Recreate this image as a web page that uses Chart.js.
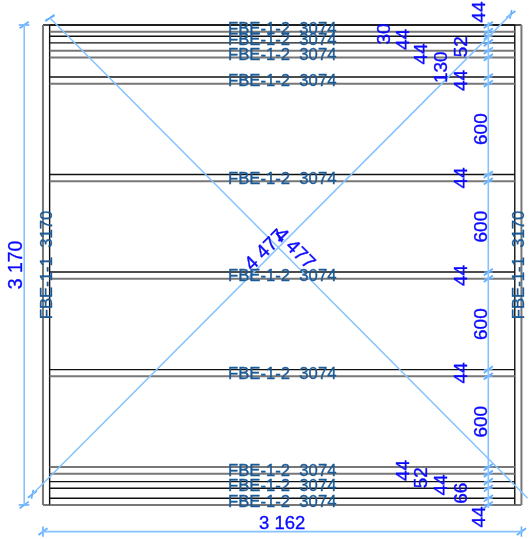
<!DOCTYPE html>
<html lang="en">
  <head>
    <meta charset="UTF-8" />
    <title>FBE</title>
    <style>
      html, body { margin: 0; padding: 0; background: #fff; }
      #wrap { position: relative; width: 529px; height: 539px; }
    </style>
  </head>
  <body>
    <div id="wrap"><canvas id="myChart"></canvas></div>

    <script src="https://cdn.jsdelivr.net/npm/chart.js"></script>
    <script>
      // all sizes in mm
      const frameWidth = 3162;
      const frameHeight = 3170;
      const studWidth = 44;
      const joistLength = 3074;
      const diagonalLength = "4 477";
      const joistLabel = "FBE-1-2  3074";
      const studLabel = "FBE-1-1  3170";
      // dimension chain on the right, from top to bottom
      const chainSizes = [44, 30, 44, 52, 44, 130, 44, 600, 44, 600, 44, 600, 44, 600, 44, 52, 44, 66, 44];
      // x of each chain label, mm from the left edge
      const chainLabelX = [2880, 2250, 2380, 2760, 2500, 2630, 2760, 2890, 2760, 2890, 2760, 2890, 2760, 2890, 2380, 2500, 2630, 2760, 2880];
      // 1 = edge looks black in the reference, 0 = soft grey
      const edgeIsDark = [1, 0, 1, 1, 0, 0, 1, 0, 1, 0, 1, 0, 1, 0, 0, 0, 1, 1, 1, 0];

      const BLUE = "#85c2ff";
      const TICK = "#66b0ff";
      const BLACK = "#111111";
      const GREY = "#777777";

      const boundaries = [frameHeight];
      chainSizes.forEach((s) => boundaries.push(boundaries[boundaries.length - 1] - s));

      function seg(x1, y1, x2, y2, color, width) {
        return {
          data: [{ x: x1, y: y1 }, { x: x2, y: y2 }],
          borderColor: color,
          borderWidth: width,
          showLine: true,
          pointRadius: 0,
          fill: false,
        };
      }

      function tick(x, y) {
        return seg(x - 30, y - 22, x + 30, y + 22, TICK, 1.8);
      }

      const datasets = [];

      // diagonals
      datasets.push(seg(46, frameHeight + 46, frameWidth + 40, 46, BLUE, 1.5));
      datasets.push(seg(-70, 70, frameWidth - 70, frameHeight + 70, BLUE, 1.5));
      datasets.push(tick(46, frameHeight + 46));
      datasets.push(seg(16, frameHeight + 30, 76, frameHeight + 62, TICK, 1.6));
      datasets.push(tick(-70, 70));
      datasets.push(seg(-76, 40, -64, 100, TICK, 1.6));
      datasets.push(tick(frameWidth - 70, frameHeight + 70));
      datasets.push(seg(frameWidth - 76, frameHeight + 40, frameWidth - 64, frameHeight + 100, TICK, 1.6));

      // left dimension
      datasets.push(seg(-124, 0, -124, frameHeight + 8, BLUE, 1.6));
      [0, frameHeight].forEach((y) => {
        datasets.push(seg(-160, y, -90, y, TICK, 1.6));
        datasets.push(tick(-124, y));
      });
      // bottom dimension
      datasets.push(seg(-8, -176, frameWidth + 8, -176, BLUE, 1.6));
      [0, frameWidth].forEach((x) => {
        datasets.push(seg(x, -210, x, -142, TICK, 1.6));
        datasets.push(tick(x, -176));
      });
      // right chain
      datasets.push(seg(2943, -20, 2943, frameHeight + 20, BLUE, 1.6));
      boundaries.forEach((y) => {
        datasets.push(seg(2915, y, 2971, y, TICK, 1.3));
        datasets.push(tick(2943, y));
      });

      // joists: every second chain segment
      chainSizes.forEach((s, i) => {
        if (i % 2 == 0) {
          [i, i + 1].forEach((k) => {
            const dark = edgeIsDark[k];
            datasets.push(seg(studWidth, boundaries[k], studWidth + joistLength, boundaries[k], dark ? BLACK : GREY, dark ? 1.4 : 2));
          });
        }
      });
      // studs
      datasets.push(seg(0, 0, 0, frameHeight, GREY, 2));
      datasets.push(seg(frameWidth, 0, frameWidth, frameHeight, GREY, 2));
      datasets.push(seg(studWidth, 0, studWidth, frameHeight, BLACK, 1.4));
      datasets.push(seg(frameWidth - studWidth, 0, frameWidth - studWidth, frameHeight, BLACK, 1.4));
      datasets.push(seg(0, frameHeight, frameWidth, frameHeight, BLACK, 1.4));
      datasets.push(seg(0, 0, frameWidth, 0, GREY, 2));

      const drawingText = {
        id: "drawingText",
        afterDatasetsDraw(chart) {
          const ctx = chart.ctx;
          const xs = chart.scales.x;
          const ys = chart.scales.y;

          function put(text, x, y, angle, size, color) {
            ctx.save();
            ctx.translate(xs.getPixelForValue(x), ys.getPixelForValue(y));
            ctx.rotate((angle * Math.PI) / 180);
            ctx.font = size + 'px "Liberation Sans", Arial, sans-serif';
            ctx.fillStyle = color;
            ctx.strokeStyle = color;
            ctx.lineWidth = 0.35;
            ctx.textAlign = "center";
            ctx.textBaseline = "middle";
            ctx.fillText(text, 0, 1);
            ctx.strokeText(text, 0, 1);
            ctx.restore();
          }

          const DARK = "#1b5a96";
          const DIM = "#0a0aff";
          // joist labels
          chainSizes.forEach((s, i) => {
            if (i % 2 == 0) {
              put(joistLabel, frameWidth / 2, boundaries[i] - s / 2, 0, 16.7, DARK);
            }
          });
          // stud labels
          put(studLabel, studWidth / 2, frameHeight / 2, -90, 16.7, DARK);
          put(studLabel, frameWidth - studWidth / 2, frameHeight / 2, -90, 16.7, DARK);
          // chain labels
          chainSizes.forEach((s, i) => {
            let y = boundaries[i] - s / 2;
            if (i == 0) y = boundaries[0] + 85;
            if (i == chainSizes.length - 1) y = -80;
            put(String(s), chainLabelX[i], y, -90, 19, DIM);
          });
          // overall sizes
          put("3 170", -180, frameHeight / 2, -90, 19.5, DIM);
          put("3 162", frameWidth / 2, -118, 0, 18.5, DIM);
          put(diagonalLength, 1466, 1685, -45, 19.5, DIM);
          put(diagonalLength, 1665, 1695, 45, 19.5, DIM);
        },
      };

      // 0.1513 px per mm, frame corner at 43,25
      new Chart(document.getElementById("myChart"), {
        type: "scatter",
        data: { datasets: datasets },
        options: {
          responsive: true,
          maintainAspectRatio: false,
          animation: false,
          layout: { padding: 0 },
          plugins: { legend: { display: false }, tooltip: { enabled: false } },
          scales: {
            x: { display: false, min: -284, max: 3212 },
            y: { display: false, min: -225, max: 3335 },
          },
        },
        plugins: [drawingText],
      });
    </script>
  </body>
</html>
